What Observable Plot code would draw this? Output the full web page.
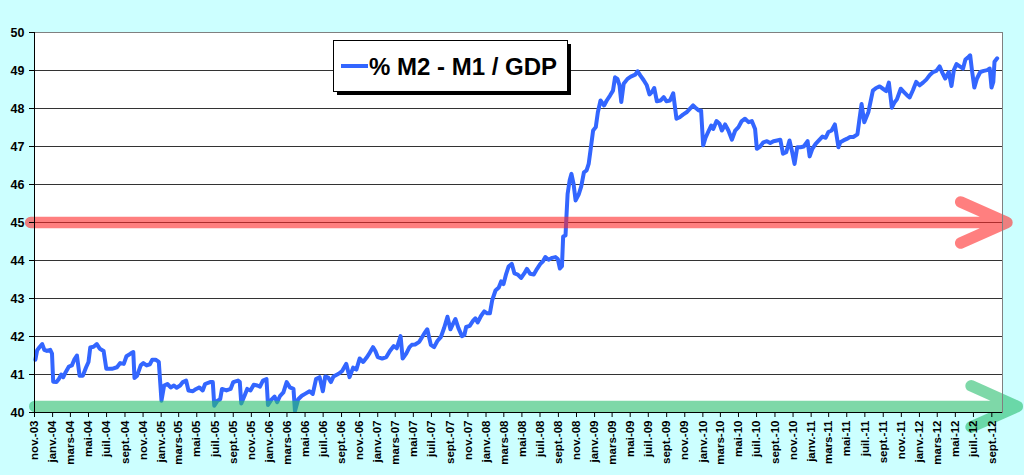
<!DOCTYPE html>
<html><head><meta charset="utf-8">
<script src="https://cdn.jsdelivr.net/npm/d3@7"></script>
<script src="https://cdn.jsdelivr.net/npm/@observablehq/plot@0.6"></script>
<style>
html,body{margin:0;padding:0;background:#ccffff;}
#chart{position:relative;width:1024px;height:475px;overflow:hidden;}
</style></head><body><div id="chart"></div>
<script>
const dates = [
"2003-11-04","2003-11-10","2003-11-19","2003-11-27","2003-12-04","2003-12-13","2003-12-24","2003-12-30",
"2004-01-03","2004-01-14","2004-01-22","2004-01-30","2004-02-06","2004-02-14","2004-02-25","2004-03-06",
"2004-03-14","2004-03-23","2004-04-01","2004-04-12","2004-04-23","2004-05-01","2004-05-07","2004-05-18",
"2004-05-29","2004-06-08","2004-06-21","2004-06-30","2004-07-19","2004-08-05","2004-08-16","2004-08-28",
"2004-09-06","2004-09-20","2004-09-29","2004-10-03","2004-10-12","2004-10-24","2004-11-02","2004-11-13",
"2004-11-24","2004-12-02","2004-12-13","2004-12-24","2005-01-02","2005-01-11","2005-01-22","2005-02-02",
"2005-02-13","2005-02-22","2005-03-06","2005-03-15","2005-03-26","2005-04-03","2005-04-18","2005-04-29",
"2005-05-10","2005-05-21","2005-05-29","2005-06-15","2005-06-24","2005-06-29","2005-07-10","2005-07-19",
"2005-07-25","2005-08-09","2005-08-23","2005-09-01","2005-09-17","2005-09-23","2005-09-28","2005-10-09",
"2005-10-18","2005-10-29","2005-11-09","2005-11-21","2005-11-30","2005-12-10","2005-12-22","2005-12-27",
"2006-01-07","2006-01-18","2006-01-27","2006-02-06","2006-02-17","2006-02-28","2006-03-11","2006-03-23",
"2006-03-28","2006-04-08","2006-04-20","2006-05-01","2006-05-16","2006-05-27","2006-06-07","2006-06-19",
"2006-06-30","2006-07-08","2006-07-19","2006-07-27","2006-08-05","2006-08-22","2006-09-03","2006-09-17",
"2006-09-28","2006-10-10","2006-10-21","2006-11-01","2006-11-13","2006-11-24","2006-12-05","2006-12-16",
"2006-12-24","2007-01-01","2007-01-16","2007-01-30","2007-02-11","2007-02-24","2007-03-06","2007-03-19",
"2007-03-26","2007-04-07","2007-04-18","2007-04-26","2007-05-07","2007-05-21","2007-06-07","2007-06-17",
"2007-06-29","2007-07-10","2007-07-21","2007-08-02","2007-08-13","2007-08-24","2007-09-03","2007-09-12",
"2007-09-20","2007-09-30","2007-10-12","2007-10-20","2007-10-26","2007-11-07","2007-11-18","2007-11-26",
"2007-12-04","2007-12-15","2007-12-26","2008-01-05","2008-01-14","2008-01-22","2008-02-02","2008-02-13",
"2008-02-21","2008-02-29","2008-03-09","2008-03-17","2008-03-28","2008-04-06","2008-04-17","2008-04-28",
"2008-05-09","2008-05-18","2008-05-29","2008-06-10","2008-06-21","2008-07-02","2008-07-11","2008-07-19",
"2008-07-30","2008-08-11","2008-08-22","2008-08-30","2008-09-06","2008-09-13","2008-09-17","2008-09-25",
"2008-09-28","2008-10-02","2008-10-09","2008-10-15","2008-10-22","2008-10-29","2008-11-09","2008-11-17",
"2008-11-26","2008-12-05","2008-12-12","2008-12-18","2008-12-27","2009-01-05","2009-01-12","2009-01-21",
"2009-02-02","2009-02-11","2009-02-22","2009-03-04","2009-03-11","2009-03-19","2009-03-26","2009-04-01",
"2009-04-09","2009-04-22","2009-05-03","2009-05-18","2009-05-26","2009-06-04","2009-06-15","2009-06-26",
"2009-07-05","2009-07-13","2009-07-21","2009-07-30","2009-08-11","2009-08-22","2009-08-31","2009-09-12",
"2009-09-23","2009-10-04","2009-10-15","2009-10-26","2009-11-07","2009-11-18","2009-11-29","2009-12-07",
"2009-12-18","2009-12-26","2010-01-02","2010-01-10","2010-01-21","2010-01-29","2010-02-05","2010-02-16",
"2010-02-26","2010-03-06","2010-03-17","2010-03-28","2010-04-09","2010-04-20","2010-05-01","2010-05-12",
"2010-05-23","2010-06-04","2010-06-15","2010-06-26","2010-07-02","2010-07-13","2010-07-24","2010-08-05",
"2010-08-16","2010-08-27","2010-09-08","2010-09-19","2010-09-28","2010-10-09","2010-10-20","2010-10-28",
"2010-11-06","2010-11-15","2010-11-26","2010-12-07","2010-12-20","2010-12-27","2011-01-05","2011-01-16",
"2011-01-27","2011-02-08","2011-02-19","2011-02-28","2011-03-11","2011-03-22","2011-04-03","2011-04-09",
"2011-04-20","2011-05-01","2011-05-12","2011-05-23","2011-06-06","2011-06-13","2011-06-20","2011-06-29",
"2011-07-13","2011-07-28","2011-08-08","2011-08-20","2011-08-31","2011-09-11","2011-09-20","2011-09-30",
"2011-10-08","2011-10-17","2011-10-30","2011-11-09","2011-11-20","2011-11-29","2011-12-10","2011-12-21",
"2012-01-02","2012-01-13","2012-01-24","2012-02-05","2012-02-16","2012-02-27","2012-03-09","2012-03-17",
"2012-03-28","2012-04-09","2012-04-18","2012-04-26","2012-05-05","2012-05-16","2012-05-27","2012-06-04",
"2012-06-12","2012-06-20","2012-06-26","2012-07-04","2012-07-13","2012-07-24","2012-08-05","2012-08-16",
"2012-08-25","2012-08-31","2012-09-06","2012-09-10","2012-09-19"
];
const values = [
41.39,41.64,41.73,41.80,41.65,41.62,41.65,41.55,
40.81,40.80,40.88,41.00,40.93,41.06,41.21,41.24,
41.39,41.50,40.97,40.97,41.19,41.33,41.71,41.73,
41.80,41.68,41.62,41.15,41.15,41.19,41.30,41.28,
41.48,41.55,41.59,40.91,40.97,41.24,41.30,41.24,
41.27,41.39,41.39,41.33,40.31,40.71,40.75,40.66,
40.71,40.65,40.71,40.80,40.84,40.58,40.56,40.62,
40.66,40.58,40.75,40.80,40.80,40.18,40.31,40.35,
40.62,40.58,40.62,40.80,40.84,40.80,40.24,40.44,
40.62,40.58,40.73,40.71,40.68,40.84,40.88,40.20,
40.33,40.42,40.27,40.44,40.53,40.80,40.66,40.62,
40.04,40.35,40.44,40.49,40.56,40.49,40.88,40.93,
40.56,40.95,40.91,40.80,40.95,41.02,41.09,41.28,
40.93,41.18,41.13,41.42,41.33,41.44,41.57,41.72,
41.62,41.46,41.42,41.46,41.62,41.75,41.69,42.01,
41.42,41.55,41.72,41.78,41.79,41.86,42.08,42.19,
41.78,41.72,41.88,41.99,42.23,42.52,42.19,42.34,
42.46,42.22,42.01,42.04,42.25,42.28,42.41,42.48,
42.37,42.54,42.66,42.61,42.61,42.96,43.21,43.29,
43.45,43.38,43.65,43.84,43.91,43.66,43.63,43.54,
43.66,43.78,43.65,43.63,43.78,43.91,43.98,44.09,
44.02,44.07,44.09,44.04,43.79,43.85,44.63,44.66,
45.14,45.75,46.11,46.28,46.02,45.58,45.75,45.95,
46.32,46.37,46.54,46.89,47.42,47.51,47.90,48.21,
48.08,48.21,48.34,48.47,48.82,48.78,48.61,48.17,
48.65,48.78,48.84,48.89,48.98,48.87,48.75,48.61,
48.37,48.43,48.54,48.19,48.21,48.30,48.19,48.21,
48.40,47.73,47.77,47.84,47.90,47.99,48.08,48.02,
47.95,47.95,47.03,47.23,47.42,47.55,47.46,47.67,
47.60,47.42,47.58,47.42,47.18,47.42,47.51,47.67,
47.73,47.64,47.67,47.46,46.94,47.00,47.11,47.14,
47.09,47.14,47.16,47.18,46.81,46.85,47.16,46.89,
46.54,46.98,46.98,47.00,47.14,46.74,46.94,47.07,
47.16,47.26,47.23,47.38,47.42,47.58,46.98,47.11,
47.16,47.20,47.25,47.25,47.32,47.73,48.12,47.64,
47.91,48.47,48.54,48.58,48.52,48.46,48.68,48.02,
48.15,48.24,48.52,48.44,48.35,48.29,48.48,48.70,
48.61,48.68,48.76,48.88,48.96,48.99,49.11,48.96,
48.79,48.96,48.59,49.01,49.17,49.11,49.05,49.29,
49.34,49.40,49.01,48.55,48.79,48.96,48.99,49.01,
49.05,48.55,48.70,49.23,49.32
];
const monthNames = ["janv.","févr.","mars","avr.","mai","juin","juil.","août","sept.","oct.","nov.","déc."];
const yTicks = [40,41,42,43,44,45,46,47,48,49,50];
const seriesName = "% M2 - M1 / GDP";
const xDomain = ["2003-11-01","2012-10-07"];
const tickRange = ["2003-11-01","2012-10-01"];
// reference arrows: level, start, end, colour
const arrowLevels = [45, 40.16];
const arrowStarts = ["2003-10-19","2003-11-02"];
const arrowEnds = ["2012-10-22","2012-11-26"];
const arrowColors = ["#ff2a2a","#28be6e"];

const data = dates.map((d,i)=>({date:new Date(d), value:values[i]}));
const fmt = d => monthNames[d.getUTCMonth()] + "-" + String(d.getUTCFullYear()%100).padStart(2,"0");
const xTicks = d3.utcMonth.every(2).range(new Date(tickRange[0]), new Date(tickRange[1]+"T01:00:00Z"));

const arrowMarks = arrowLevels.map((lv,i)=>Plot.arrow([{x1:new Date(arrowStarts[i]), x2:new Date(arrowEnds[i]), y:lv}],
  {x1:"x1", x2:"x2", y1:"y", y2:"y", stroke:arrowColors[i], strokeOpacity:0.6, strokeWidth:11.5, headLength:6.6, headAngle:48}));

const plot = Plot.plot({
  width:1024, height:475, marginLeft:34, marginRight:22, marginTop:32, marginBottom:63,
  style:{background:"#ccffff", fontFamily:"'Liberation Sans', Arial, sans-serif", fontWeight:"bold", color:"#000", overflow:"visible"},
  x:{type:"utc", domain:xDomain.map(d=>new Date(d))},
  y:{domain:[40,50]},
  marks:[
    Plot.frame({fill:"white"}),
    Plot.gridY(yTicks.slice(1,-1), {stroke:"#333", strokeOpacity:1, strokeWidth:1}),
    Plot.lineY(data, {x:"date", y:"value", stroke:"#3366ff", strokeWidth:4, strokeLinejoin:"round"}),
    ...arrowMarks,
    Plot.frame({stroke:"#808080"}),
    Plot.ruleX([new Date(xDomain[0])], {stroke:"#000"}),
    Plot.ruleY([40], {stroke:"#000"}),
    Plot.axisY(yTicks, {tickSize:5, tickPadding:5, fontSize:12.5, stroke:"#000"}),
    Plot.axisX(xTicks, {tickSize:5, tickPadding:3, tickRotate:-90, tickFormat:fmt, fontSize:11.5, stroke:"#000"})
  ]
});
document.getElementById("chart").appendChild(plot);

// legend box inside the plot
const svg = d3.select(plot);
const g = svg.append("g");
g.append("rect").attr("x",337).attr("y",44).attr("width",234).attr("height",51).attr("fill","#000");
g.append("rect").attr("x",333.5).attr("y",40.5).attr("width",234).attr("height",51).attr("fill","#fff").attr("stroke","#000").attr("stroke-width",1);
g.append("line").attr("x1",341).attr("x2",368).attr("y1",66).attr("y2",66).attr("stroke","#3366ff").attr("stroke-width",4);
g.append("text").attr("x",369).attr("y",75).attr("font-size",24).attr("font-weight","bold").attr("text-anchor","start")
  .attr("font-family","'Liberation Sans', Arial, sans-serif").attr("fill","#000").text(seriesName);
</script></body></html>
